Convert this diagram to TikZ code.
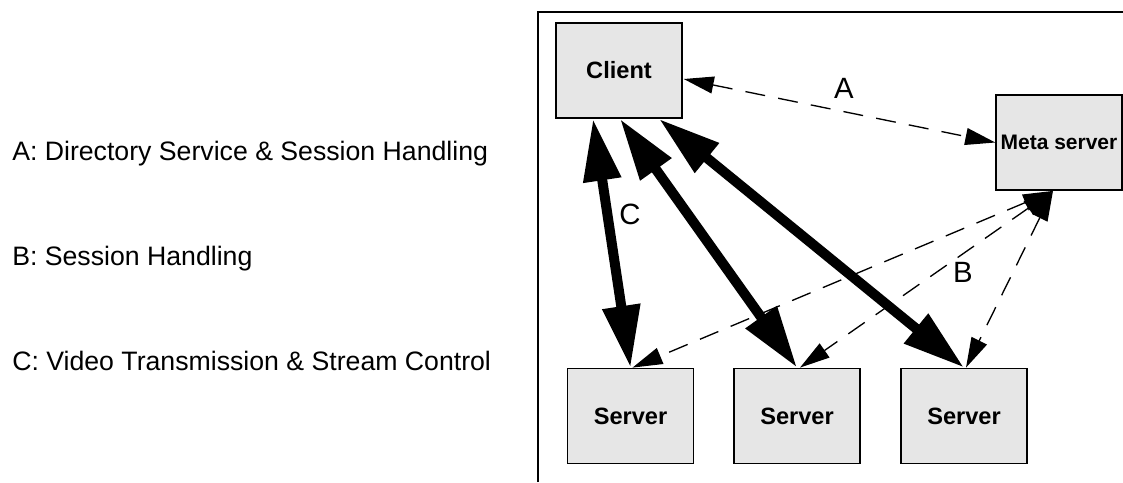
\documentclass[tikz,border=0pt]{standalone}
\usepackage{fontspec}
\setmainfont{Liberation Sans}
\usetikzlibrary{arrows.meta,calc}

\definecolor{boxfill}{HTML}{E6E6E6}

\tikzset{
  unitbox/.style={draw=black, line width=1.1pt, fill=boxfill, rectangle,
    minimum width=94.5pt, minimum height=71.5pt, inner sep=0pt,
    font=\fontsize{17.7pt}{20pt}\selectfont\bfseries},
  videolink/.style={line width=7.5pt,
    {Triangle[length=46.5pt,width=27pt]}-{Triangle[length=46.5pt,width=27pt]}},
  ctrllink/.style={line width=1pt, dash pattern=on 15pt off 10pt},
  ctrlboth/.style={{Triangle[length=22.5pt,width=12.75pt]}-{Triangle[length=22.5pt,width=12.75pt]}},
  linklabel/.style={font=\fontsize{22pt}{26pt}\selectfont, inner sep=0pt},
  legend/.style={font=\fontsize{20pt}{24pt}\selectfont, anchor=base west, inner sep=0pt}
}

\begin{document}
\begin{tikzpicture}[x=0.75pt, y=-0.75pt]
  \useasboundingbox (0,0) rectangle (1123,482);

  % enclosing frame, open at the right and bottom
  \coordinate (frameBL) at (538,482);
  \coordinate (frameTL) at (538,12);
  \coordinate (frameTR) at (1123,12);
  \draw[line width=1.1pt] (frameBL) -- (frameTL) -- (frameTR);

  % legend
  \node[legend] (legA) at (12,160) {A: Directory Service \& Session Handling};
  \node[legend] (legB) at (12,265) {B: Session Handling};
  \node[legend] (legC) at (12,370) {C: Video Transmission \& Stream Control};

  % components
  \node[unitbox] (client) at (619,70.5) {Client};
  \node[unitbox, font=\fontsize{15.75pt}{18pt}\selectfont\bfseries] (meta) at (1059,142.5) {Meta server};
  \node[unitbox] (srvA) at (630.5,416) {Server};
  \node[unitbox] (srvB) at (797,416) {Server};
  \node[unitbox] (srvC) at (964,416) {Server};

  % directory service / session handling between client and meta server
  \draw[ctrllink, ctrlboth] ($(client.east)+(1,8.5)$) -- (meta.west);

  % session handling between meta server and the servers
  \draw[ctrllink, ctrlboth] ($(meta.south)+(-6,0)$) -- ($(srvA.north)+(2,0)$);
  \draw[ctrllink, ctrlboth] ($(meta.south)+(-6,0)$) -- ($(srvB.north)+(3,0)$);
  \draw[ctrllink, ctrlboth] ($(meta.south)+(-6,0)$) -- ($(srvC.north)+(2,0)$);

  % video transmission between client and servers
  \draw[videolink] ($(client.south)+(-26,0)$) -- (srvA.north);
  \draw[videolink] ($(client.south)+(1,0)$) -- (srvB.north);
  \draw[videolink] ($(client.south)+(40,0)$) -- (srvC.north);

  % link labels
  \node[linklabel] (lblA) at (844,88.5) {A};
  \node[linklabel] (lblB) at (963,272) {B};
  \node[linklabel] (lblC) at (630,214) {C};
\end{tikzpicture}
\end{document}
